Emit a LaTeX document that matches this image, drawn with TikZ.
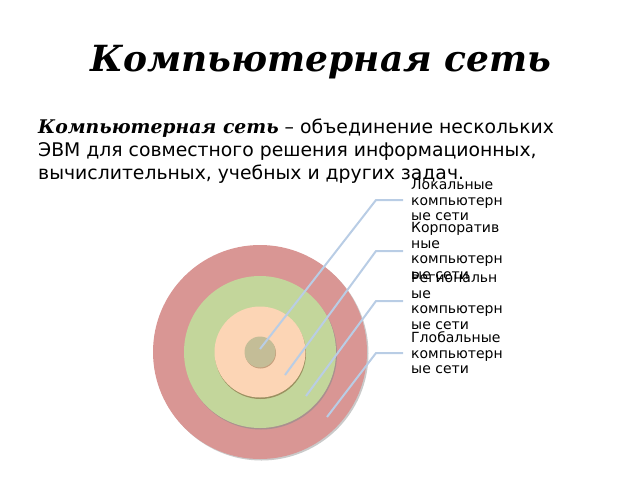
\documentclass[tikz,border=0pt]{standalone}
\usepackage{fontspec}
\setmainfont{DejaVu Sans}
\newfontfamily\titlefont{DejaVu Serif}
\usetikzlibrary{calc}
\definecolor{ringred}{HTML}{D99694}
\definecolor{ringgreen}{HTML}{C3D69B}
\definecolor{ringpeach}{HTML}{FCD5B5}
\definecolor{ringtan}{HTML}{C4BD97}
\definecolor{leader}{HTML}{B9CDE5}
\tikzset{
	ring/.style={circle,draw=none,inner sep=0pt},
	shade/.style={circle,fill=black!35,opacity=0.6,inner sep=0pt},
	callout/.style={draw=leader,line width=2pt},
	lab/.style={anchor=west,align=left,inner xsep=8pt,inner ysep=0pt,font=\fontsize{14}{15.5}\selectfont}
}
\begin{document}
\begin{tikzpicture}[x=1pt,y=-1pt]
	\useasboundingbox (0,0) rectangle (640,480);
	
	%title
	\node (title) at (321,62) {\titlefont\bfseries\itshape\fontsize{36}{40}\selectfont Компьютерная сеть};
	
	%definition
	\node[anchor=north west,align=left,inner sep=0pt,font=\fontsize{18.8}{23}\selectfont] (def) at (38,119)
		{{\titlefont\bfseries\itshape Компьютерная сеть} – объединение нескольких\\
		 ЭВМ для совместного решения информационных,\\
		 вычислительных, учебных и других задач.};
	
	%circles
	\node[shade,minimum size=214pt] at (261.5,353.5) {};
	\node[ring,fill=ringred,minimum size=214pt] (global) at (260,352) {};
	\node[shade,fill=black!45,minimum size=152pt] at (261,353.5) {};
	\node[ring,fill=ringgreen,minimum size=152pt] (regional) at (260,352) {};
	\node[shade,fill=brown!60!black,opacity=0.5,minimum size=91pt] at (260.5,353.5) {};
	\node[ring,fill=ringpeach,minimum size=91pt] (corp) at (260,352) {};
	\node[shade,fill=brown!60!black,opacity=0.4,minimum size=31pt] at (260.5,353) {};
	\node[ring,fill=ringtan,minimum size=31pt] (local) at (260,352) {};
	
	%dots
	\coordinate (p1) at (260,349);
	\coordinate (p2) at (285,375);
	\coordinate (p3) at (306,396);
	\coordinate (p4) at (327,417);
	
	%labels
	\node[lab] (l1) at (403,200) {Локальные\\компьютерн\\ые сети};
	\node[lab] (l2) at (403,251) {Корпоратив\\ные\\компьютерн\\ые сети};
	\node[lab] (l3) at (403,301) {Региональн\\ые\\компьютерн\\ые сети};
	\node[lab] (l4) at (403,353) {Глобальные\\компьютерн\\ые сети};
	
	%lines
	\draw[callout] (p1) -- (376,200) -- (l1.west);
	\draw[callout] (p2) -- (376,251) -- (l2.west);
	\draw[callout] (p3) -- (376,301) -- (l3.west);
	\draw[callout] (p4) -- (376,353) -- (l4.west);
\end{tikzpicture}
\end{document}
